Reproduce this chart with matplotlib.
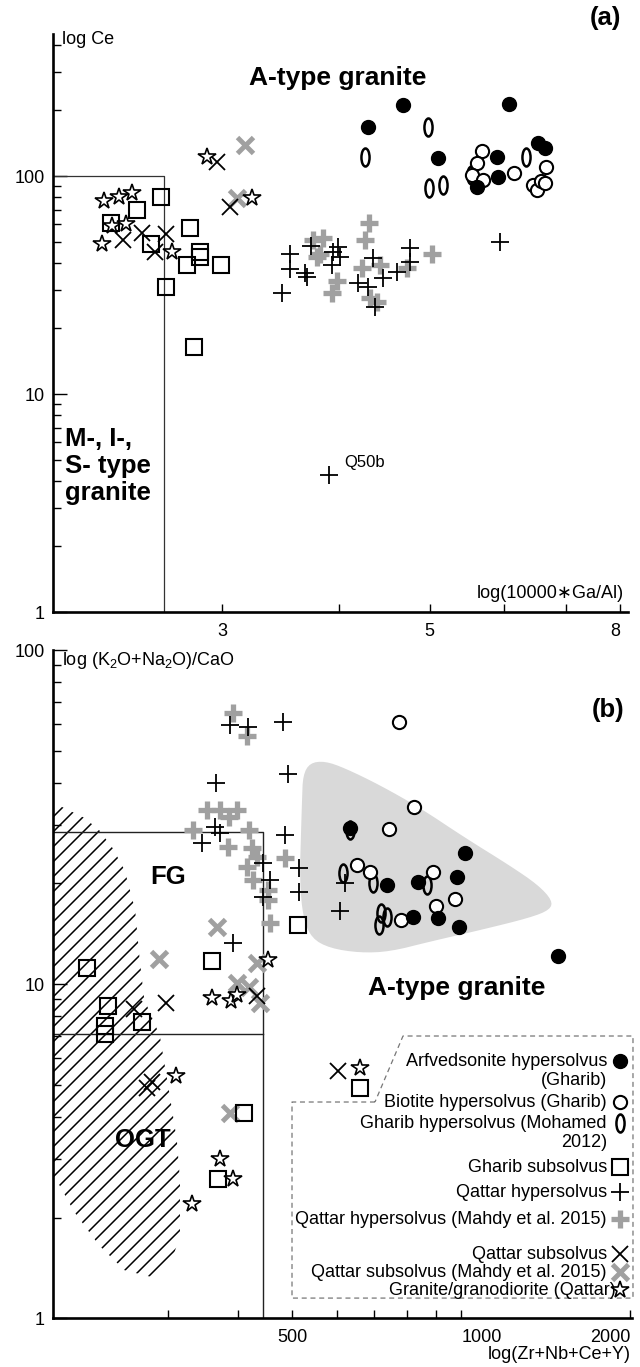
import numpy as np
import matplotlib
matplotlib.use("Agg")
import matplotlib.pyplot as plt
from matplotlib.path import Path
from matplotlib.transforms import Affine2D, blended_transform_factory
from matplotlib.patches import Polygon

plt.rcParams["font.family"] = ["Liberation Sans", "DejaVu Sans"]
plt.rcParams["mathtext.default"] = "regular"

GRAY = "#a0a0a0"

# ---------------- (a) log Ce vs log(10000*Ga/Al) ----------------
a_arf_x = [4.30, 4.68, 6.08, 5.11, 5.90, 5.92, 5.62, 6.53, 6.64]
a_arf_y = [168, 212, 214, 121, 122, 99, 89, 142, 134]
a_bio_x = [5.69, 5.62, 5.55, 5.70, 6.16, 6.66, 6.45, 6.51, 6.58, 6.64]
a_bio_y = [130, 115, 101, 96, 103, 110, 91, 86, 95, 93]
a_moh_x = [4.26, 4.98, 4.99, 5.17, 6.34, 5.54]
a_moh_y = [122, 168, 88, 91, 122, 101]
a_gsub_x = [2.58, 2.43, 2.28, 2.52, 2.77, 2.84, 2.84, 2.75, 2.99, 2.61, 2.80]
a_gsub_y = [80, 70, 61, 49, 58, 45, 42.5, 39, 39, 31, 16.4]
a_qhyp_x = [3.55, 3.55, 3.68, 3.70, 3.48, 3.73, 3.94, 3.99, 4.01, 3.93,
            4.35, 4.19, 4.30, 4.46, 4.62, 4.77, 4.77, 4.37, 5.95, 3.90]
a_qhyp_y = [44, 37.4, 36, 34.4, 29, 48, 45, 47, 42.5, 39,
            42, 32.3, 31, 34, 36.3, 46.8, 40.3, 25.1, 49.8, 4.25]
a_qhypm_x = [4.31, 4.27, 3.85, 3.82, 3.98, 3.93, 4.23, 4.43, 4.32, 4.39, 5.03, 4.73, 3.75, 3.79]
a_qhypm_y = [61, 51, 52, 44, 33, 29, 38, 39, 27.6, 26.4, 44, 38, 51, 42.5]
a_qsub_x = [2.96, 3.06, 2.35, 2.46, 2.61, 2.54]
a_qsub_y = [116, 72, 51, 55, 54, 45]
a_qsubm_x = [3.17, 3.11]
a_qsubm_y = [139, 79]
a_gran_x = [2.89, 3.23, 2.24, 2.33, 2.40, 2.29, 2.37, 2.23, 2.65]
a_gran_y = [122, 79, 77, 80, 84, 59, 60, 49, 45]

# ---------------- (b) (K2O+Na2O)/CaO vs Zr+Nb+Ce+Y ----------------
b_arf_x = [632, 1016, 737, 837, 983, 820, 909, 991, 1489]
b_arf_y = [29.3, 24.7, 19.8, 20.2, 20.9, 15.9, 15.8, 14.8, 12.1]
b_bio_x = [774, 824, 743, 651, 687, 891, 975, 902, 780]
b_bio_y = [60.9, 33.9, 29.1, 22.7, 21.6, 21.6, 18.0, 17.1, 15.6]
b_moh_x = [632, 616, 695, 869, 713, 737, 719]
b_moh_y = [28.9, 21.5, 20.1, 19.8, 15.0, 15.9, 16.3]
b_gsub_x = [511, 359, 215, 234, 270, 232, 232, 409, 368, 659]
b_gsub_y = [15.0, 11.7, 11.2, 8.6, 7.7, 7.5, 7.1, 4.1, 2.6, 4.9]
b_qhyp_x = [481, 387, 416, 491, 365, 620, 608, 484, 513, 513, 391, 363, 371, 345, 443, 456, 443]
b_qhyp_y = [60.9, 59.6, 58.8, 42.5, 40.0, 20.1, 16.6, 27.9, 22.2, 18.9, 13.3, 29.5, 28.3, 26.4, 23.0, 20.5, 18.2]
b_qhypm_x = [391, 414, 352, 371, 398, 385, 332, 419, 383, 423, 414, 432, 484, 425, 452, 452, 456]
b_qhypm_y = [64.8, 55.3, 33.2, 33.2, 33.2, 31.6, 28.9, 28.9, 25.7, 25.5, 22.4, 24.0, 23.8, 20.5, 19.1, 17.8, 15.2]
b_qsub_x = [297, 261, 432, 281, 275, 603]
b_qsub_y = [8.8, 8.4, 9.2, 5.1, 4.9, 5.5]
b_qsubm_x = [366, 289, 432, 398, 419, 437, 387]
b_qsubm_y = [14.8, 11.9, 11.6, 10.1, 9.8, 8.8, 4.1]
b_gran_x = [452, 359, 388, 398, 310, 371, 391, 331, 659]
b_gran_y = [11.8, 9.1, 8.9, 9.3, 5.3, 3.0, 2.6, 2.2, 5.6]

# field outlines in (b)
atype_x = [522, 537, 571, 620, 716, 844, 1016, 1222, 1371, 1453, 1441, 1327,
           1080, 880, 746, 659, 583, 541, 522, 515, 518, 520]
atype_y = [42.2, 45.9, 46.5, 44.3, 39.4, 33.7, 27.4, 22.6, 19.8, 17.8, 16.7, 15.8,
           14.5, 13.4, 12.5, 12.4, 12.8, 13.7, 15.8, 20.5, 28.9, 35.6]
ogt_x = [150, 194, 213, 226, 239, 251, 262, 267, 272, 290, 302, 311, 315, 315,
         304, 284, 251, 226, 204, 192, 150]
ogt_y = [34.4, 33.9, 31.4, 28.9, 25.5, 21.9, 16.7, 11.8, 9.0, 7.0, 4.65, 3.41, 2.59, 1.77,
         1.47, 1.32, 1.39, 1.65, 2.08, 2.50, 2.74]

legend_labels = ["Arfvedsonite hypersolvus\n(Gharib)", "Biotite hypersolvus (Gharib)",
                 "Gharib hypersolvus (Mohamed\n2012)", "Gharib subsolvus", "Qattar hypersolvus",
                 "Qattar hypersolvus (Mahdy et al. 2015)", "Qattar subsolvus",
                 "Qattar subsolvus (Mahdy et al. 2015)", "Granite/granodiorite (Qattar)"]

ELL = Path.unit_circle().transformed(Affine2D().scale(0.45, 1.0))
styles = {
    "arf": dict(marker="o", ms=10, mfc="black", mec="black", mew=1),
    "bio": dict(marker="o", ms=9.5, mfc="white", mec="black", mew=1.5),
    "moh": dict(marker=ELL, ms=13, mfc="none", mec="black", mew=1.8),
    "gsub": dict(marker="s", ms=11.5, mfc="none", mec="black", mew=1.5),
    "qhypm": dict(marker="+", ms=13, mec=GRAY, mew=3.8),
    "qhyp": dict(marker="+", ms=13, mec="black", mew=1.3),
    "qsubm": dict(marker="x", ms=11, mec=GRAY, mew=3.5),
    "qsub": dict(marker="x", ms=11, mec="black", mew=1.3),
    "gran": dict(marker="*", ms=13, mfc="white", mec="black", mew=1.2),
}
legend_order = ["arf", "bio", "moh", "gsub", "qhyp", "qhypm", "qsub", "qsubm", "gran"]
draw_order = ["qhypm", "qsubm", "gsub", "qsub", "gran", "qhyp", "moh", "bio", "arf"]

a_data = {"arf": (a_arf_x, a_arf_y), "bio": (a_bio_x, a_bio_y), "moh": (a_moh_x, a_moh_y),
          "gsub": (a_gsub_x, a_gsub_y), "qhyp": (a_qhyp_x, a_qhyp_y), "qhypm": (a_qhypm_x, a_qhypm_y),
          "qsub": (a_qsub_x, a_qsub_y), "qsubm": (a_qsubm_x, a_qsubm_y), "gran": (a_gran_x, a_gran_y)}
b_data = {"arf": (b_arf_x, b_arf_y), "bio": (b_bio_x, b_bio_y), "moh": (b_moh_x, b_moh_y),
          "gsub": (b_gsub_x, b_gsub_y), "qhyp": (b_qhyp_x, b_qhyp_y), "qhypm": (b_qhypm_x, b_qhypm_y),
          "qsub": (b_qsub_x, b_qsub_y), "qsubm": (b_qsubm_x, b_qsubm_y), "gran": (b_gran_x, b_gran_y)}


def style_axis(ax):
    ax.set_xscale("log")
    ax.set_yscale("log")
    for s in ["top", "right"]:
        ax.spines[s].set_visible(False)
    for s in ["left", "bottom"]:
        ax.spines[s].set_linewidth(1.9)
    ax.tick_params(which="both", direction="in", width=1.0, labelsize=13, pad=6)
    ax.tick_params(axis="y", which="major", length=10)
    ax.tick_params(axis="y", which="minor", length=6)
    ax.tick_params(axis="x", which="both", length=6, pad=8)
    ax.set_yticks([1, 10, 100])
    ax.set_yticklabels(["1", "10", "100"])
    ax.yaxis.set_minor_formatter(plt.NullFormatter())
    ax.xaxis.set_minor_locator(plt.NullLocator())


def plot_series(ax, data):
    for key in draw_order:
        x, y = data[key]
        ax.plot(x, y, linestyle="none", zorder=3, **styles[key])


fig = plt.figure(figsize=(6.4, 13.67), dpi=100)

# ---- panel (a)
ax1 = fig.add_axes([0.0828, 0.5523, 0.8984, 0.4228])
style_axis(ax1)
ax1.set_xlim(1.978, 8.15)
ax1.set_ylim(1, 448)
ax1.set_xticks([3, 4, 5, 6, 7, 8])
ax1.set_xticklabels(["3", "", "5", "", "", "8"])
ax1.get_xticklabels()[5].set_ha("right")
ax1.plot([1.978, 2.6, 2.6], [100, 100, 1], color="#333333", lw=0.9, zorder=2)
plot_series(ax1, a_data)
ax1.annotate("Q50b", (a_qhyp_x[-1], a_qhyp_y[-1]), xytext=(11, 9), textcoords="offset points",
             fontsize=12, va="center", ha="left")
tr1 = blended_transform_factory(ax1.transAxes, ax1.transData)
ax1.text(0.016, 421, "log Ce", transform=tr1, fontsize=13, va="center", ha="left")
ax1.text(0.993, 1.22, "log(10000\u2217Ga/Al)", transform=tr1, fontsize=13, va="center", ha="right")
ax1.text(3.99, 282, "A-type granite", fontsize=19, fontweight="bold", ha="center", va="center")
ax1.text(0.021, 4.67, "M-, I-,\nS- type\ngranite", transform=tr1, fontsize=18.5,
         fontweight="bold", ha="left", va="center", linespacing=1.15)
fig.text(605 / 640, 1 - 18 / 1367, "(a)", fontsize=18.5, fontweight="bold", ha="center", va="center")

# ---- panel (b)
ax2 = fig.add_axes([0.0828, 0.0358, 0.9047, 0.4887])
style_axis(ax2)
ax2.set_xlim(187, 2016)
ax2.set_ylim(1, 100)
ax2.set_xticks([300, 400, 500, 600, 700, 800, 900, 1000, 2000])
ax2.set_xticklabels(["", "", "500", "", "", "", "", "1000", "2000"])
ax2.get_xticklabels()[7].set_ha("left")
ax2.get_xticklabels()[8].set_ha("right")

# smooth the A-type field outline a little (Chaikin corner cutting in log space)
pts = np.log10(np.column_stack([atype_x, atype_y]))
for _ in range(2):
    nxt = np.roll(pts, -1, axis=0)
    q = 0.75 * pts + 0.25 * nxt
    r = 0.25 * pts + 0.75 * nxt
    pts = np.empty((2 * len(q), 2))
    pts[0::2] = q
    pts[1::2] = r
ax2.add_patch(Polygon(10 ** pts, closed=True, facecolor="#d9d9d9", edgecolor="none", zorder=1))

# OGT field: diagonal hatch lines clipped to the field outline
ogt = Polygon(np.column_stack([ogt_x, ogt_y]), closed=True, facecolor="none", edgecolor="none", zorder=1)
ax2.add_patch(ogt)
W, H = 579.0, 668.0
for c in np.arange(-W, H, 15.0):
    ln, = ax2.plot([0, 1], [c / H, (W + c) / H], transform=ax2.transAxes, color="black",
                   lw=1.1, zorder=1)
    ln.set_clip_path(ogt)

ax2.plot([187, 443, 443], [28.5, 28.5, 1], color="#222222", lw=1.0, zorder=2)
ax2.plot([187, 443], [7.08, 7.08], color="#222222", lw=1.0, zorder=2)
plot_series(ax2, b_data)

tr2 = blended_transform_factory(ax2.transAxes, ax2.transData)
ax2.text(0.016, 93, "log (K$_2$O+Na$_2$O)/CaO", transform=tr2, fontsize=13, va="center", ha="left")
ax2.text(0.997, -0.055, "log(Zr+Nb+Ce+Y)", transform=ax2.transAxes, fontsize=13, va="center", ha="right")
ax2.text(300, 20.9, "FG", fontsize=18.5, fontweight="bold", ha="center", va="center")
ax2.text(270, 3.41, "OGT", fontsize=18.5, fontweight="bold", ha="center", va="center")
ax2.text(983, 9.73, "A-type granite", fontsize=19, fontweight="bold", ha="center", va="center")
fig.text(608 / 640, 1 - 710 / 1367, "(b)", fontsize=18.5, fontweight="bold", ha="center", va="center")

# custom legend
leg_y = [0.3847, 0.3234, 0.2919, 0.2260, 0.1886, 0.1482, 0.0958, 0.0689, 0.0419]
line_step = 0.0285
for key, label, y in zip(legend_order, legend_labels, leg_y):
    xr = 0.9724 if key == "gran" else 0.9568
    for k, line in enumerate(label.split("\n")):
        ax2.text(xr, y - k * line_step, line, transform=ax2.transAxes, fontsize=13,
                 ha="right", va="center")
    ax2.plot([0.9793], [y], transform=ax2.transAxes, clip_on=False, linestyle="none", zorder=4,
             **styles[key])
frame_x = [0.5561, 0.4128, 0.4128, 1.0017, 1.0017, 0.6045, 0.5561]
frame_y = [0.3234, 0.3234, 0.0299, 0.0299, 0.4222, 0.4222, 0.3234]
ax2.plot(frame_x, frame_y, transform=ax2.transAxes, clip_on=False, color="#777777",
         lw=0.9, linestyle=(0, (4, 3)), zorder=2)

fig.savefig("out.png", dpi=100)
